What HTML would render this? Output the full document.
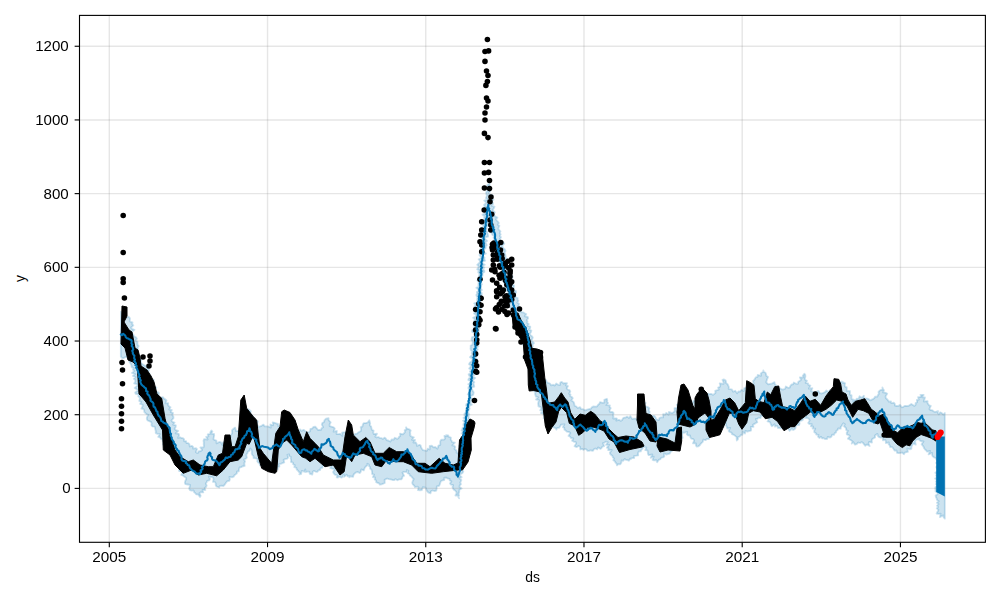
<!DOCTYPE html><html><head><meta charset="utf-8"><style>html,body{margin:0;padding:0;background:#fff;overflow:hidden}svg{display:block}</style></head><body><svg width="1000" height="600" viewBox="0 0 1000 600">
<rect x="0" y="0" width="1000" height="600" fill="#fff"/>
<defs><clipPath id="c"><rect x="79.5" y="15.4" width="905.9" height="526.9"/></clipPath></defs>
<polygon points="120.9,311.6 121.7,313.1 121.7,315.2 124.0,315.4 125.0,316.7 126.6,317.5 128.7,316.7 130.0,318.3 129.9,319.9 129.7,321.5 132.5,322.4 132.2,324.1 133.3,325.4 131.1,327.5 131.9,328.9 134.5,329.8 131.6,332.1 132.1,333.6 133.5,334.8 134.0,336.2 136.0,337.3 136.9,338.7 135.5,340.6 137.5,341.7 137.4,343.2 137.6,344.8 138.7,346.1 137.6,347.9 138.0,349.4 137.0,351.2 138.5,352.4 138.4,354.0 139.3,355.3 139.1,357.0 140.1,358.2 141.6,359.2 140.6,362.1 141.6,363.4 143.0,364.4 144.3,365.3 146.3,366.1 147.3,367.4 147.8,368.9 149.2,370.0 147.7,372.6 149.6,373.4 148.8,375.4 150.9,376.2 149.5,378.2 150.3,379.4 153.7,379.7 153.5,381.3 151.6,383.5 153.6,384.3 152.4,386.2 154.8,386.8 156.4,387.6 155.2,389.8 155.4,391.4 157.7,392.0 159.0,393.0 158.7,394.5 158.5,397.3 160.2,397.8 162.9,397.1 164.0,398.6 165.4,399.4 166.5,400.5 165.5,403.4 168.2,403.1 168.1,405.1 169.0,406.3 170.5,407.3 169.2,409.5 171.8,410.0 170.7,412.1 173.1,413.0 172.3,414.9 173.4,416.5 173.5,418.2 171.4,420.5 172.4,421.8 174.6,422.6 173.1,424.7 175.9,425.3 175.7,427.0 174.6,428.9 175.8,430.1 178.2,430.9 175.6,433.3 178.7,433.8 179.1,435.3 178.1,437.8 180.2,437.3 181.4,438.0 183.0,438.2 184.1,439.1 184.2,441.3 186.1,441.1 186.5,443.0 188.3,443.1 189.4,444.2 189.8,446.5 192.0,445.8 193.1,446.9 193.2,448.6 196.0,448.2 197.0,449.2 195.8,452.0 196.9,452.9 197.9,452.9 198.4,451.5 200.8,451.0 202.1,450.0 200.4,447.5 203.5,447.4 203.9,446.0 203.7,444.2 203.8,442.6 203.5,440.7 204.0,439.2 207.7,439.5 206.2,436.9 208.4,436.4 207.7,434.3 210.2,433.9 210.3,432.2 211.4,430.4 212.4,431.5 211.3,433.7 214.1,434.0 214.2,435.6 213.8,437.4 213.5,439.2 215.0,440.2 216.4,440.6 216.6,443.4 219.2,442.0 220.9,442.2 221.8,443.8 222.5,445.2 222.2,443.2 223.4,442.3 224.8,441.5 226.2,440.8 225.7,438.7 227.2,438.0 229.6,438.0 230.6,437.1 230.6,435.2 231.6,434.2 232.2,432.8 231.9,430.7 232.5,429.4 235.1,427.6 236.1,431.2 238.0,430.9 241.3,431.7 239.5,428.5 242.2,428.8 242.6,427.3 244.2,426.7 243.9,424.7 247.0,424.4 244.2,422.2 246.2,421.2 247.2,419.9 248.1,418.6 247.9,417.1 248.1,415.6 248.8,414.3 249.6,412.9 248.0,411.0 249.5,409.9 247.9,408.9 248.7,410.3 250.8,411.0 250.3,413.0 250.8,414.5 252.4,415.4 252.9,416.9 254.5,417.9 254.7,419.6 255.5,421.1 257.9,421.5 257.0,423.9 258.3,426.8 260.0,426.4 261.6,425.8 263.4,424.6 264.7,426.4 266.5,426.4 268.3,426.5 270.8,427.6 270.3,424.5 273.1,425.3 272.7,422.3 274.8,422.8 276.3,423.5 278.1,423.9 278.3,426.2 280.0,426.7 281.1,428.0 281.8,429.9 284.5,429.0 286.4,429.3 286.6,431.0 288.5,432.0 289.8,430.0 291.6,429.6 293.5,432.1 295.1,431.1 296.7,430.1 298.5,431.6 300.2,429.4 301.5,431.0 303.6,429.8 305.1,431.0 307.3,432.6 308.8,432.1 310.1,431.2 310.4,428.8 312.1,428.6 313.5,426.9 315.3,426.7 316.7,428.3 318.0,430.0 321.1,429.8 321.5,428.2 323.1,427.2 321.8,424.6 322.3,423.0 324.0,422.1 324.5,420.2 326.0,418.7 328.6,418.2 328.5,419.9 329.5,421.1 330.7,422.3 329.6,424.5 329.7,426.1 332.1,426.8 333.7,427.3 334.8,428.5 333.6,431.7 336.9,431.0 336.5,434.0 338.3,434.1 340.3,433.8 342.3,435.9 342.0,432.7 343.5,432.3 345.4,432.4 347.8,430.4 347.2,433.6 349.8,433.0 351.3,433.8 351.0,434.3 353.6,435.4 354.9,434.0 357.1,433.6 358.1,432.6 359.5,431.8 360.8,431.1 361.1,429.3 360.7,427.1 362.4,426.6 362.8,424.7 363.6,423.1 365.9,423.1 367.7,422.5 369.3,420.3 369.7,421.9 370.2,423.4 369.8,425.4 371.1,426.5 371.5,428.1 371.8,429.8 373.6,430.6 373.3,432.6 373.7,434.1 377.0,433.7 375.3,436.7 376.8,437.5 378.1,437.0 379.9,437.9 381.7,438.2 382.8,438.9 384.8,437.6 385.9,438.7 386.8,440.3 388.3,440.5 390.4,441.6 391.6,439.4 393.5,439.7 394.8,437.7 397.3,438.9 398.5,438.1 399.1,436.7 400.3,435.9 400.0,433.6 402.8,434.3 404.0,433.3 404.9,432.2 404.7,430.1 406.4,429.6 406.0,427.4 406.1,427.3 406.9,428.6 409.2,429.3 410.7,430.4 410.1,432.3 410.3,433.9 410.2,435.6 411.7,436.7 413.9,437.3 412.0,439.8 415.1,440.0 413.4,442.5 415.7,442.3 416.6,443.7 416.9,445.9 419.5,444.8 420.7,445.6 421.2,447.6 422.1,449.0 423.1,450.2 425.3,450.6 427.0,450.8 427.7,448.7 429.7,449.5 429.7,446.0 432.0,445.7 433.3,447.3 435.3,447.0 437.4,448.7 438.0,447.2 438.4,445.6 440.3,444.8 440.2,442.9 440.3,441.0 441.4,439.7 443.7,439.7 445.0,438.7 444.4,435.8 447.2,436.3 446.1,435.1 448.3,435.5 448.9,436.9 450.9,437.5 450.7,439.5 451.6,440.7 452.2,442.2 454.9,442.6 452.3,445.3 454.4,445.9 455.3,447.1 454.5,448.9 455.9,449.9 456.7,451.1 456.6,452.7 459.2,453.1 458.4,455.0 458.4,453.4 460.6,452.5 460.9,450.9 459.0,448.9 460.1,447.6 459.3,445.8 460.7,444.6 462.4,443.5 463.1,441.9 461.8,440.3 461.4,438.8 461.1,437.4 462.9,436.2 464.1,435.0 461.5,433.2 464.0,432.1 461.5,430.4 462.3,429.1 462.6,427.7 464.4,426.5 463.3,424.9 463.6,423.6 464.7,422.3 463.0,420.7 465.5,419.6 463.5,417.9 465.0,416.7 464.4,415.1 464.5,413.7 465.9,412.5 465.9,411.1 465.9,409.7 466.3,408.3 467.0,407.0 466.0,405.3 466.4,404.0 468.2,402.9 468.5,401.5 468.4,400.0 469.7,398.7 468.9,397.2 469.9,395.8 467.7,394.2 469.6,392.9 470.0,391.5 470.4,390.1 468.4,388.5 468.5,387.1 470.8,385.8 468.3,384.2 471.2,383.0 470.9,381.5 468.3,379.9 468.8,378.5 470.7,377.2 469.1,375.7 468.6,374.2 471.3,372.9 469.9,371.4 471.4,370.1 469.1,368.5 470.2,367.1 471.3,365.8 469.0,364.2 469.7,362.8 471.6,361.5 472.5,360.1 472.8,358.7 469.9,357.1 471.4,355.8 472.4,354.5 471.6,353.0 472.4,351.6 470.8,350.1 470.5,348.6 470.7,347.2 470.6,345.8 472.6,344.5 472.6,343.1 472.9,341.7 471.5,340.2 471.7,338.8 471.9,337.4 474.3,336.2 475.0,334.8 474.9,333.4 472.0,331.7 472.1,330.3 475.4,329.2 473.7,327.6 474.9,326.3 473.5,324.8 474.1,323.4 474.4,322.0 474.2,320.6 475.0,319.3 473.0,317.7 475.6,316.5 476.2,315.1 474.0,313.5 475.1,312.1 476.2,310.8 475.1,309.3 474.5,307.8 474.5,306.3 475.8,305.0 474.2,303.4 477.4,302.3 477.2,300.8 477.0,299.3 477.7,298.0 477.0,296.5 476.3,295.0 477.1,293.6 476.8,292.1 478.7,290.9 478.2,289.4 476.3,287.8 478.8,286.5 478.3,285.1 478.5,283.7 478.8,282.2 477.4,280.7 479.3,279.4 479.3,278.0 478.8,276.5 479.2,275.1 479.3,273.6 478.1,272.1 479.3,270.8 477.1,269.2 478.2,267.8 478.8,266.4 477.2,264.8 478.6,263.5 479.8,262.2 479.8,260.7 478.6,259.2 481.3,258.0 480.4,256.5 479.4,254.9 480.6,253.6 480.4,252.1 480.5,250.7 480.1,249.2 482.4,248.0 481.2,246.4 481.6,245.0 481.9,243.6 482.9,242.2 479.6,240.5 481.8,239.2 482.4,237.8 480.8,236.3 481.4,234.9 480.3,233.3 481.0,231.9 481.8,230.6 480.9,229.0 481.6,227.7 484.1,226.4 482.9,224.9 482.9,223.4 484.7,222.2 483.4,220.6 485.1,219.4 484.0,217.8 484.8,216.5 482.4,214.8 484.5,213.6 485.2,212.3 482.9,210.5 486.2,209.5 483.6,207.8 484.9,206.5 484.0,205.0 485.4,203.7 486.0,202.3 484.2,200.7 487.6,199.7 485.9,198.0 486.4,196.7 486.9,195.3 486.2,193.8 486.1,192.3 487.6,191.1 487.5,189.7 486.7,188.1 488.4,186.9 487.1,185.3 489.7,183.6 489.3,185.2 490.3,186.5 490.3,188.1 488.6,190.0 490.2,191.2 488.8,193.1 489.7,194.4 492.5,195.2 489.6,197.5 490.1,198.9 493.5,199.7 490.9,201.7 492.9,202.7 493.0,204.1 491.6,205.9 494.5,206.7 493.8,208.3 492.7,210.0 493.7,211.2 494.9,212.3 493.4,214.1 494.3,215.4 495.4,216.6 497.4,217.6 495.9,219.3 496.8,220.6 498.0,221.7 498.9,223.0 497.7,224.8 499.4,225.8 498.7,227.4 498.3,229.0 499.4,230.2 500.5,231.4 499.7,233.1 500.7,234.3 499.8,236.0 501.0,237.2 499.8,239.0 500.3,240.3 501.4,241.5 503.5,242.4 504.3,243.7 502.0,245.8 502.7,247.1 503.6,248.3 504.9,249.5 505.6,250.9 504.5,252.6 505.2,253.9 505.5,255.4 505.7,256.8 505.6,258.3 508.0,259.3 508.1,260.7 505.9,262.8 506.5,264.1 507.0,265.5 510.3,266.2 510.5,267.6 510.1,269.2 509.9,270.7 509.5,272.2 511.6,273.2 510.4,274.9 512.4,275.9 512.6,277.3 510.9,279.1 511.6,280.4 511.7,281.9 512.9,283.0 512.8,284.5 514.1,285.6 513.9,287.1 512.8,288.8 512.8,290.4 515.9,290.9 516.2,292.3 514.3,294.5 515.4,295.7 515.4,297.2 517.7,298.0 517.5,299.6 518.5,300.8 517.1,302.8 519.1,303.7 518.6,305.4 517.9,307.2 520.5,307.6 520.7,309.2 521.0,310.8 521.4,312.3 523.6,312.4 524.7,313.4 526.3,314.0 524.7,316.3 527.8,317.0 528.2,318.3 526.8,320.1 527.5,321.4 527.1,323.0 528.8,324.0 527.5,325.8 530.3,326.5 530.2,328.0 529.0,329.7 531.4,330.5 531.0,332.1 529.9,333.8 530.3,335.1 532.0,336.2 532.8,337.5 532.3,339.1 531.3,340.7 532.9,341.9 534.0,343.1 532.2,344.9 533.0,346.2 532.0,347.8 532.2,349.2 532.6,350.6 534.6,351.6 533.5,353.3 535.6,354.3 535.8,355.7 535.8,357.2 534.2,358.9 534.6,360.3 537.2,361.2 537.2,362.7 537.5,364.2 537.9,365.6 538.2,367.1 538.5,368.5 539.6,369.7 538.6,371.5 538.2,373.1 539.4,374.3 538.8,376.0 540.1,377.2 541.8,378.3 540.7,380.9 542.0,381.8 544.3,380.4 546.1,380.0 547.0,382.3 548.4,382.9 549.9,383.5 551.3,385.4 553.2,384.7 554.8,385.6 556.2,383.5 558.1,384.7 559.8,385.2 560.4,382.3 561.8,381.9 563.9,383.7 563.7,383.1 567.0,383.2 565.8,385.4 568.0,386.0 566.7,388.3 567.6,389.5 569.6,390.2 570.3,391.5 569.1,393.7 570.5,394.6 570.2,396.3 572.0,397.1 572.8,398.3 571.2,400.5 572.8,401.3 573.9,402.4 574.3,403.8 574.6,405.7 576.3,406.5 577.7,408.0 580.1,407.2 581.3,409.2 583.1,409.2 585.4,410.4 586.7,409.7 588.1,409.3 589.5,409.0 590.9,408.7 591.8,407.2 593.4,406.4 595.2,406.6 596.9,406.5 598.1,404.8 599.4,403.8 600.0,402.1 602.6,402.8 604.4,402.5 604.3,399.8 606.9,398.8 607.3,400.2 607.1,401.8 608.1,403.0 606.3,405.2 609.9,405.4 609.6,407.1 610.8,408.1 609.5,410.3 609.9,411.8 612.5,412.0 613.6,413.1 613.1,415.1 613.5,416.7 613.2,418.5 616.7,418.3 617.2,419.7 616.3,420.6 617.7,420.2 619.0,419.8 620.9,420.9 622.1,420.0 623.0,418.3 624.2,417.6 625.7,417.5 626.9,416.6 629.0,418.1 630.3,416.1 631.3,417.5 632.2,419.0 634.1,418.6 635.7,418.6 637.9,420.6 638.7,419.4 637.5,417.2 638.8,416.2 640.7,415.6 639.8,413.5 639.6,411.8 639.7,410.3 643.3,410.4 643.4,408.9 642.7,407.0 643.8,405.9 644.4,404.6 645.7,402.9 644.1,405.5 645.9,406.4 648.0,407.2 649.4,408.2 648.7,410.4 649.7,411.7 649.2,414.1 650.6,415.0 652.0,415.8 654.2,415.8 655.3,416.9 656.0,418.4 656.2,419.3 658.8,420.1 659.4,418.0 661.0,417.4 663.1,417.4 663.1,414.2 665.0,414.7 666.3,412.9 668.6,414.7 668.9,411.9 672.0,413.2 673.4,412.3 674.7,411.2 674.5,408.1 676.0,407.9 678.1,407.2 676.8,404.8 678.8,404.0 679.5,402.5 681.7,401.9 681.3,399.9 681.7,399.6 683.4,397.6 685.0,399.3 686.9,398.1 686.6,400.4 689.7,399.3 688.9,402.1 691.4,401.6 691.8,403.4 693.0,402.6 693.5,400.6 696.1,401.8 696.4,399.4 698.0,398.5 699.4,396.9 701.1,397.1 702.7,397.1 704.4,397.4 705.3,395.6 707.2,396.2 707.8,393.7 709.6,394.1 711.0,393.8 713.1,394.9 714.3,393.9 715.5,392.8 715.2,390.8 717.1,390.2 718.8,389.6 718.1,387.5 719.9,386.8 720.3,385.4 719.7,383.3 723.5,383.9 723.6,382.3 722.5,379.9 723.8,379.4 725.6,380.2 726.0,381.7 726.2,383.3 727.7,384.3 728.3,385.7 728.9,387.1 728.7,388.9 730.2,389.2 731.9,389.4 733.1,391.7 735.2,390.7 737.1,393.3 738.4,391.5 740.2,391.6 741.5,389.8 743.7,391.1 744.1,388.1 745.5,387.8 746.8,387.1 748.9,388.6 750.6,387.9 749.9,385.7 751.4,385.0 753.5,384.8 753.6,383.1 753.0,380.9 754.2,380.0 754.9,378.7 755.7,377.4 757.5,376.9 757.7,374.9 761.0,375.8 760.8,373.4 762.1,372.4 763.5,371.5 763.3,370.3 763.6,371.8 765.5,372.8 766.1,374.3 766.3,375.8 768.1,376.9 767.3,378.8 766.7,380.6 766.2,382.3 768.3,384.3 770.0,383.9 771.6,383.7 774.5,382.1 774.7,383.9 775.7,384.9 775.9,386.7 778.3,386.3 778.3,387.9 780.0,388.3 781.6,389.3 783.3,389.5 785.2,388.7 785.8,386.5 788.1,387.8 789.7,387.6 790.4,385.8 791.5,384.5 793.0,384.3 793.8,382.5 796.0,383.7 797.8,383.9 798.3,381.7 799.8,380.9 801.0,379.9 799.9,377.3 803.0,377.6 802.8,375.7 804.3,373.7 805.3,374.9 805.4,376.5 804.9,378.4 805.2,379.9 807.0,380.7 805.6,382.9 808.1,383.4 808.4,384.9 810.4,385.5 808.9,388.7 812.4,388.2 811.1,391.2 813.3,391.9 815.0,391.9 816.6,391.9 818.3,390.9 820.0,393.2 821.7,393.5 823.4,392.8 825.0,392.1 826.4,390.4 828.6,392.4 829.8,390.1 832.0,391.8 832.7,389.3 834.6,389.2 836.3,388.8 835.9,386.1 837.9,386.0 837.8,383.8 838.8,382.6 840.3,382.0 843.4,383.1 841.9,381.5 843.4,382.4 845.2,383.2 844.6,385.1 845.0,386.6 846.8,387.4 846.7,389.1 846.7,390.8 849.9,390.9 850.0,392.6 849.8,394.5 851.6,395.4 851.5,397.2 851.6,399.0 853.6,399.7 853.3,401.8 854.1,400.1 855.9,400.2 856.7,398.7 858.5,398.8 859.5,396.2 861.8,397.8 863.9,395.6 863.9,398.8 865.8,398.3 867.4,398.6 868.8,399.1 870.2,400.4 871.6,399.7 873.0,399.1 874.2,398.3 875.0,396.7 877.3,396.7 877.8,395.2 878.8,394.1 878.5,391.9 879.5,390.8 880.8,390.0 882.7,389.6 882.4,387.5 883.1,388.9 884.0,390.2 883.1,392.3 885.7,392.8 887.2,393.8 885.6,396.2 885.7,397.8 886.9,399.0 888.1,400.3 888.8,401.7 891.0,401.4 891.4,403.2 893.8,402.7 894.8,403.8 895.0,405.6 896.7,406.0 898.4,405.9 900.2,404.9 901.7,407.4 903.4,406.8 905.0,405.8 906.5,406.0 908.3,405.9 909.8,404.9 911.3,403.9 914.5,405.9 915.6,404.8 915.6,403.0 917.1,402.2 916.8,400.0 918.8,399.7 918.1,397.2 920.5,397.1 921.0,395.5 920.4,394.9 923.7,394.8 922.2,397.3 925.0,397.4 924.4,399.5 923.8,401.5 927.6,401.1 927.4,402.7 928.2,404.1 929.1,405.3 930.8,405.9 929.4,409.0 930.5,410.0 932.6,410.3 933.3,411.2 935.0,412.0 938.2,411.1 937.2,411.3 938.7,414.4 940.2,412.3 941.8,413.0 943.3,414.6 944.8,413.0 944.8,518.7 943.7,517.5 943.3,515.3 939.9,517.1 940.6,513.7 938.3,513.9 936.6,513.5 937.8,511.3 938.4,509.8 936.8,508.4 938.1,507.0 937.0,505.6 938.7,504.1 936.9,502.7 938.8,501.3 936.9,499.9 936.7,498.5 935.9,497.0 935.6,495.6 937.6,494.2 937.5,492.8 935.5,491.3 935.6,489.9 935.2,488.5 935.4,487.1 937.3,485.6 935.8,484.2 936.5,482.8 935.8,481.4 936.8,479.9 935.1,478.5 937.3,477.1 936.0,475.7 936.8,474.2 935.3,472.8 937.0,471.4 938.5,470.0 936.9,468.5 936.2,467.1 937.3,465.7 938.4,464.3 936.1,462.9 937.4,461.4 936.7,460.0 935.4,457.9 933.9,457.3 932.7,456.4 932.1,455.0 932.1,452.9 928.6,454.4 930.0,450.9 927.1,451.7 926.2,450.5 924.9,449.3 924.0,448.1 923.5,446.6 922.6,445.5 921.6,444.3 923.5,441.5 921.0,441.2 919.5,440.3 919.4,438.6 919.0,439.4 916.9,439.4 915.6,440.2 915.1,441.8 915.8,444.6 912.6,443.4 912.3,445.2 911.5,446.5 911.4,448.8 909.9,449.3 907.3,448.5 907.9,451.8 906.3,452.2 904.7,452.6 904.0,454.2 902.0,452.5 900.2,453.1 898.6,453.2 897.1,452.9 896.4,450.3 894.7,450.7 893.6,449.1 893.1,448.3 892.2,447.1 890.1,447.0 889.8,445.4 888.7,444.4 888.8,442.5 885.8,443.1 885.8,441.2 885.2,439.8 882.9,440.3 882.9,437.3 880.7,437.7 879.2,437.2 877.9,436.1 877.4,433.8 875.0,435.5 875.1,437.5 873.7,438.2 872.4,438.9 871.7,440.3 872.0,442.5 869.1,441.9 868.6,443.3 869.6,446.1 867.0,444.5 865.3,445.8 864.1,444.4 863.0,442.9 861.7,442.1 860.1,443.0 858.3,442.5 856.7,444.1 855.0,444.7 853.4,442.3 851.7,443.6 852.5,441.4 851.2,440.4 849.6,439.5 847.9,438.6 850.0,436.2 848.8,435.1 846.8,434.4 846.7,432.8 847.9,430.8 846.1,430.0 846.1,428.4 845.2,427.2 843.9,426.2 844.9,424.2 843.4,423.3 842.4,424.5 841.8,425.8 840.8,426.9 840.7,428.7 838.2,428.4 837.7,429.9 836.4,430.7 836.1,432.4 834.8,433.1 834.0,434.8 832.1,434.7 831.4,436.8 830.1,437.6 827.7,436.9 827.1,439.0 825.0,439.1 823.7,438.1 822.2,438.4 821.0,436.8 819.3,438.0 818.0,436.6 818.5,434.8 816.2,434.5 815.8,433.1 814.3,432.3 814.2,430.8 815.2,428.6 812.6,428.5 813.2,426.5 810.8,426.3 811.7,424.1 809.1,424.0 808.2,422.9 809.7,420.4 809.0,419.1 807.9,418.2 805.3,418.1 806.4,415.8 805.7,414.6 805.1,417.2 803.3,417.9 803.0,419.8 801.5,420.7 799.1,421.0 799.6,423.4 799.2,425.0 796.9,425.1 795.7,426.0 795.6,428.0 794.7,429.2 793.2,430.0 791.9,428.8 789.6,430.8 788.3,429.0 787.0,426.9 785.1,429.3 784.1,426.5 782.4,427.9 780.8,428.3 779.4,428.0 778.0,428.0 776.9,425.7 775.0,426.6 774.6,424.2 771.9,426.2 771.0,424.7 770.3,422.7 769.6,421.9 767.5,421.4 769.0,418.9 767.7,417.9 767.6,416.4 765.1,416.1 764.1,415.0 764.5,413.2 763.8,415.0 763.0,416.3 760.7,415.9 760.7,418.1 758.4,417.6 757.7,418.9 755.8,418.9 757.3,422.2 755.9,423.1 754.4,423.9 753.0,424.7 753.5,426.9 750.7,426.9 751.2,429.0 751.0,430.7 748.9,431.1 747.5,431.6 745.5,430.9 745.0,433.5 742.7,432.0 742.5,434.8 740.7,435.2 739.8,436.5 738.2,437.1 737.9,439.3 736.8,440.5 736.5,436.9 735.2,435.9 733.9,434.9 732.0,434.2 731.6,432.7 729.7,432.0 728.6,430.9 730.2,427.9 727.2,428.5 726.8,426.9 726.1,425.5 725.9,423.8 725.6,422.1 722.8,424.2 723.6,426.8 720.3,426.2 720.4,428.3 718.8,429.0 717.8,430.2 716.4,431.1 717.2,433.7 715.3,434.1 714.5,436.0 712.3,435.4 710.4,435.5 709.5,437.1 708.8,439.1 706.8,438.9 705.7,440.2 703.4,439.5 702.8,441.8 701.6,442.9 700.5,444.1 699.8,445.3 698.5,446.3 696.6,446.6 695.9,445.3 695.9,443.4 692.9,443.3 694.2,440.6 693.4,439.2 691.1,438.6 690.4,437.3 690.0,435.5 688.0,435.4 686.8,434.3 687.1,431.8 683.9,432.8 682.8,432.3 682.3,433.9 682.1,435.6 682.6,437.8 680.7,438.5 678.6,439.1 679.5,441.5 678.0,442.3 676.4,443.0 677.8,445.8 674.5,445.4 676.2,448.3 673.2,448.1 672.2,449.3 672.0,451.0 670.6,451.8 669.8,453.6 668.1,454.0 666.6,454.6 664.1,453.5 664.3,456.5 663.0,457.4 661.3,457.7 660.5,459.2 659.0,459.7 658.0,460.9 657.2,462.3 656.3,460.1 654.0,460.4 652.6,459.8 653.7,456.7 650.6,457.8 652.3,454.5 648.6,455.2 647.9,453.8 647.8,452.1 647.5,450.4 645.2,450.2 646.3,447.6 644.5,447.1 643.1,447.0 642.6,448.7 641.4,449.8 640.8,451.3 638.7,451.5 638.1,453.1 638.2,455.4 636.3,455.7 634.2,455.8 634.2,458.1 632.0,458.1 630.8,459.1 630.3,458.5 628.9,460.8 627.5,460.1 626.1,459.9 624.7,459.0 623.3,460.8 621.6,460.5 621.3,462.8 620.3,464.3 618.2,464.2 617.0,465.4 616.5,463.6 615.4,462.5 614.8,461.2 613.3,460.3 614.0,458.5 612.9,457.4 612.5,456.0 611.3,455.0 610.2,454.0 609.8,452.7 611.8,450.0 608.2,450.2 608.5,448.4 606.9,447.6 609.2,444.8 606.0,444.9 607.8,442.3 606.1,441.6 604.6,442.6 603.0,443.1 604.1,446.1 602.5,446.6 601.7,447.8 600.6,448.9 598.0,447.4 597.2,449.3 595.3,448.5 593.9,449.3 593.0,450.9 591.2,450.5 590.5,450.3 589.0,450.9 587.5,450.8 586.3,449.4 585.0,449.0 583.3,449.9 582.2,448.9 580.3,449.5 580.0,446.7 578.7,446.0 576.5,447.1 574.5,446.2 576.1,443.6 575.8,442.1 573.6,441.6 572.1,440.7 573.3,438.3 570.8,438.0 570.2,436.6 568.5,435.9 570.3,433.0 569.1,432.0 566.8,431.7 565.7,430.6 564.4,429.7 564.3,427.9 562.9,427.1 564.4,424.3 561.0,424.7 560.2,426.3 559.2,427.8 557.2,427.9 556.4,429.6 555.8,428.5 554.3,427.6 552.8,426.9 552.4,424.6 548.9,426.4 548.4,424.4 548.1,421.9 546.9,420.8 546.7,420.2 546.0,418.9 543.6,418.3 544.4,416.4 543.6,415.2 543.3,413.7 540.9,413.2 543.1,410.7 540.2,410.3 541.2,408.4 540.7,407.1 538.5,406.3 538.3,404.8 538.1,403.4 538.5,401.8 539.0,400.1 536.0,399.5 538.3,397.3 535.8,396.6 535.5,395.2 535.0,393.7 535.7,392.0 533.5,391.1 533.3,389.6 533.6,388.0 532.3,386.8 534.4,384.8 534.9,383.1 534.2,381.8 534.2,380.3 532.2,379.3 530.8,378.1 532.2,376.2 529.7,375.3 530.0,373.7 531.3,372.0 531.6,370.5 528.2,369.6 528.2,368.2 527.8,366.8 529.5,365.0 527.2,363.9 528.9,362.2 527.0,361.0 527.2,359.5 527.5,358.0 528.8,356.3 526.8,355.2 528.4,353.4 526.0,352.4 527.4,350.7 524.9,349.7 526.8,347.8 526.9,346.1 526.2,344.9 522.9,344.6 524.6,342.5 525.1,340.7 521.6,340.5 521.5,339.0 522.7,337.1 522.6,335.6 522.4,334.1 520.4,333.4 518.9,332.4 518.0,331.3 518.9,329.2 518.9,327.5 518.0,326.3 517.8,324.8 515.2,324.4 516.9,321.9 513.4,322.0 515.4,319.3 514.8,318.3 512.0,317.5 513.2,315.7 513.6,314.0 513.5,312.5 510.7,311.7 513.1,309.6 511.4,308.5 510.2,307.3 509.1,306.0 508.5,304.7 510.5,302.7 510.5,301.1 510.5,299.6 509.5,298.4 507.1,297.5 508.9,295.6 507.5,294.5 508.1,292.9 508.2,291.4 505.2,290.6 506.3,288.9 504.3,287.9 506.9,285.8 505.1,284.8 504.3,283.5 504.3,282.0 502.8,280.9 505.4,278.8 504.9,277.5 502.0,276.7 503.1,275.0 501.8,273.8 503.2,271.9 503.0,270.4 501.2,269.3 501.7,267.7 501.9,266.1 500.2,265.0 501.2,263.2 499.1,262.2 498.7,260.8 497.4,259.6 496.9,258.2 499.2,256.0 498.1,254.8 497.6,253.4 496.9,252.0 496.0,250.7 494.6,249.6 496.5,247.6 495.1,246.4 496.3,244.6 495.2,243.4 495.5,241.7 495.4,240.3 494.0,239.1 493.5,237.7 494.2,236.0 492.4,234.9 491.7,233.6 490.8,232.3 489.9,231.1 490.4,229.4 489.8,228.0 490.4,226.3 489.3,225.0 489.4,223.4 487.5,222.4 490.2,223.7 488.4,224.9 486.8,226.1 486.5,227.5 486.8,229.0 486.4,230.4 487.2,232.1 487.6,233.6 488.1,235.2 488.1,236.7 484.7,237.5 485.3,239.1 487.2,240.9 485.3,242.1 486.2,243.7 486.8,245.3 485.5,246.5 485.9,247.9 484.4,249.2 483.3,250.5 482.8,251.9 485.9,253.6 482.8,254.7 482.9,256.2 484.6,257.7 484.3,259.1 485.2,260.6 482.8,261.8 481.8,263.1 484.8,264.8 482.5,266.0 484.3,267.6 482.2,268.8 484.2,270.4 484.4,271.9 482.6,273.1 482.5,274.5 482.5,276.0 481.5,277.3 481.7,278.7 481.8,280.2 480.3,281.4 481.1,282.9 481.9,284.4 479.7,285.6 480.1,287.1 480.9,288.6 481.9,290.1 480.1,291.4 481.7,292.9 481.9,294.3 481.5,295.7 481.2,297.1 480.6,298.5 479.5,299.8 480.8,301.3 479.7,302.7 479.0,304.0 481.6,305.6 481.1,307.0 480.8,308.4 478.4,309.7 479.6,311.2 481.0,312.7 477.9,313.9 479.5,315.4 477.8,316.7 480.7,318.3 477.2,319.5 477.4,320.9 477.1,322.3 477.8,323.8 477.9,325.2 478.9,326.7 479.6,328.2 478.8,329.5 479.0,331.0 478.0,332.3 478.7,333.8 478.8,335.2 477.3,336.5 476.5,337.9 479.2,339.5 477.7,340.8 477.3,342.2 478.2,343.7 475.3,344.9 478.3,346.6 476.3,347.8 477.8,349.4 476.6,350.7 476.5,352.2 477.6,353.7 477.2,355.1 476.1,356.5 475.8,357.9 477.1,359.4 473.9,360.6 474.9,362.1 474.6,363.5 475.0,365.0 473.1,366.3 474.5,367.8 475.1,369.3 475.6,370.8 475.5,372.3 473.0,373.5 474.4,375.0 472.5,376.3 475.2,378.0 473.7,379.3 472.6,380.6 474.3,382.2 473.3,383.6 474.0,385.1 474.3,386.6 471.6,387.7 472.0,389.1 472.5,390.6 473.7,392.2 473.5,393.6 473.2,394.9 470.7,396.1 470.3,397.5 472.9,399.2 471.6,400.4 471.0,401.8 470.5,403.2 471.9,404.7 469.2,405.8 469.2,407.3 469.6,408.7 468.7,410.0 468.4,411.4 468.2,412.8 469.3,414.4 468.6,415.7 468.7,417.1 468.9,418.6 470.2,420.1 467.5,421.2 469.8,423.1 469.8,424.6 467.5,425.6 468.6,427.3 468.7,428.8 465.3,429.7 466.0,431.3 465.9,432.8 466.9,434.4 466.3,435.8 466.1,437.3 465.3,438.6 465.8,440.2 464.9,441.4 463.8,442.8 465.4,444.4 465.1,445.8 463.7,447.1 463.9,448.6 463.5,450.0 465.3,451.6 463.4,452.8 465.1,454.5 463.2,455.7 463.4,457.2 463.4,458.6 463.3,460.1 461.6,461.3 461.5,462.8 463.5,464.4 461.4,465.6 461.8,467.1 460.7,468.4 462.3,470.1 463.3,471.6 462.6,472.9 460.4,474.2 459.8,475.5 461.7,477.1 459.4,478.4 461.4,480.0 460.8,481.3 460.2,482.7 461.0,484.2 459.7,485.5 459.5,486.9 461.6,488.5 459.4,489.8 459.3,491.2 459.1,492.6 458.5,494.0 459.1,495.4 458.2,496.8 459.1,498.3 458.5,497.1 458.3,495.5 455.4,495.5 456.7,493.0 456.1,491.7 455.2,490.6 453.8,489.7 453.0,488.5 452.5,487.1 453.1,485.2 450.9,484.6 450.0,483.5 451.4,481.2 449.7,480.4 449.6,478.9 447.4,478.4 446.0,477.4 446.4,477.8 444.3,477.7 444.3,480.0 442.6,480.4 441.1,481.0 440.3,482.7 439.8,484.4 439.1,485.9 436.8,486.3 436.7,488.3 436.3,490.6 434.7,491.1 432.5,490.5 431.0,491.2 430.5,493.3 428.0,492.3 427.0,491.0 426.3,489.3 425.6,487.6 422.8,487.2 421.9,490.0 420.1,490.3 417.9,490.1 418.5,487.5 417.4,486.6 414.9,487.1 414.3,485.7 412.8,484.4 412.2,483.0 412.7,481.1 413.7,479.0 412.5,477.9 411.4,476.6 409.9,475.6 409.4,474.0 407.6,473.2 408.4,470.8 406.8,470.0 406.9,472.1 404.0,471.8 402.5,472.5 404.1,475.8 402.6,476.5 402.2,478.2 401.3,479.4 398.8,479.4 397.6,480.3 395.3,479.1 394.2,480.2 392.5,480.1 392.0,479.7 390.4,479.4 388.7,479.1 387.1,478.5 384.6,479.9 384.8,483.0 383.2,483.7 381.6,484.3 379.8,484.7 379.4,483.6 377.8,482.9 376.1,482.2 376.1,480.4 374.7,479.5 375.0,477.5 372.9,477.1 374.0,474.6 372.0,474.0 372.1,472.4 371.9,471.0 371.4,469.6 370.1,468.7 370.1,467.2 369.0,466.1 368.8,464.6 367.3,463.7 367.7,465.0 366.4,466.0 365.2,467.2 364.4,468.7 363.8,470.4 361.3,469.4 360.8,471.7 359.9,473.1 357.7,472.0 356.2,472.3 354.7,473.4 353.6,474.7 353.1,476.9 350.6,476.3 349.3,477.4 349.4,476.1 347.6,476.4 346.7,474.8 344.0,476.9 343.8,474.1 342.7,476.8 341.5,477.7 338.8,476.4 337.9,477.7 336.7,477.4 337.1,475.3 334.8,474.7 333.8,473.5 333.1,472.0 334.7,469.2 332.4,468.7 330.2,468.1 331.6,465.4 330.9,463.9 330.2,462.5 327.4,462.3 327.0,462.4 326.0,463.4 325.0,464.4 324.1,465.5 322.7,466.1 322.3,467.9 320.6,468.1 320.1,470.0 318.5,470.3 317.5,471.8 315.9,471.8 313.7,470.8 312.7,472.1 312.3,474.6 309.8,473.8 309.2,471.6 307.5,471.6 305.6,472.1 305.3,469.3 304.8,471.8 301.8,470.8 301.4,472.4 301.1,474.1 299.3,474.3 300.3,472.9 298.9,471.9 297.9,470.6 296.7,469.5 296.4,467.8 294.3,467.1 294.8,465.1 293.1,464.2 292.9,462.6 290.9,461.9 291.2,460.0 290.6,458.6 290.8,456.8 289.0,456.0 289.1,454.3 287.4,454.8 288.2,457.4 287.3,458.7 285.2,459.1 283.6,459.9 284.3,462.5 282.5,463.1 281.0,463.8 279.1,464.1 279.4,466.6 277.8,467.2 277.8,469.4 275.8,466.7 274.1,466.8 273.2,465.4 271.7,464.9 270.2,464.5 267.9,463.7 267.0,467.4 264.8,465.7 263.1,465.8 262.1,465.3 259.9,465.4 259.3,463.0 258.1,462.6 257.2,461.3 257.8,459.2 256.0,458.4 253.5,458.1 253.6,456.3 252.5,455.2 251.7,453.8 251.8,451.6 251.5,449.8 250.3,448.5 249.4,450.9 247.7,451.8 247.5,453.2 246.4,454.3 246.4,455.9 246.9,457.6 245.9,458.7 244.0,459.5 245.1,461.5 244.4,462.7 244.4,464.3 244.7,465.9 242.1,466.5 241.2,467.2 239.5,467.5 239.0,469.2 238.8,471.3 237.1,471.5 236.8,473.5 235.6,474.4 234.5,475.2 233.8,476.6 232.3,477.3 229.4,476.9 229.9,479.3 229.3,480.9 227.3,481.2 226.3,482.3 225.5,483.6 224.5,485.0 223.3,486.0 221.5,485.7 219.9,485.8 219.1,487.5 216.5,486.5 215.7,485.2 215.7,483.4 215.0,482.1 212.9,481.8 213.6,479.4 213.2,477.8 211.8,477.0 209.6,476.8 208.8,476.7 210.0,479.0 209.3,480.3 207.2,480.9 206.7,482.3 205.8,483.5 206.7,485.6 206.0,487.0 204.7,488.0 205.4,490.0 202.5,489.9 203.3,492.4 200.8,492.2 199.5,493.0 200.7,495.8 200.0,497.0 198.1,494.4 196.1,494.4 195.3,493.1 194.1,492.2 193.6,490.5 191.5,490.6 189.9,490.2 189.1,488.6 189.8,486.6 190.0,484.8 187.8,484.5 185.5,484.2 184.8,482.9 185.2,481.1 186.3,478.8 185.7,477.5 184.2,476.7 183.2,475.7 181.2,475.0 182.3,473.0 182.6,471.3 179.1,471.2 179.0,469.7 180.3,467.5 179.1,466.5 176.7,465.9 178.7,463.5 175.5,463.3 176.5,461.3 174.3,460.6 175.3,458.6 175.4,457.0 174.3,455.6 172.7,455.3 172.6,453.3 170.1,453.9 169.7,452.2 168.8,451.1 169.0,449.6 166.2,449.4 167.1,447.2 165.2,446.6 165.9,444.5 163.0,444.4 163.5,442.4 162.7,441.2 162.6,439.5 160.8,438.8 160.2,437.4 158.2,436.9 159.8,434.1 157.5,433.8 155.7,433.1 155.8,431.3 155.4,429.7 155.1,428.2 154.7,426.7 152.2,426.4 151.4,425.1 151.7,423.3 151.0,421.9 149.3,421.2 147.6,420.5 146.8,419.1 146.9,417.4 148.3,414.9 146.5,414.2 145.4,413.1 144.3,412.0 144.2,410.4 143.5,409.1 141.4,408.6 142.7,406.1 142.7,404.7 140.0,404.0 141.3,401.9 139.2,401.0 139.7,399.2 139.8,397.5 138.3,396.4 138.8,394.5 135.6,393.8 135.2,392.4 138.1,390.3 136.4,389.1 134.6,387.9 137.4,385.8 137.3,384.3 134.1,383.4 135.3,381.6 135.3,380.1 133.8,378.8 135.7,377.0 132.8,376.0 135.2,374.0 131.9,373.0 134.3,371.1 133.0,369.7 133.8,368.1 131.5,367.1 131.5,365.6 130.9,364.3 130.2,363.0 129.3,361.7 130.8,359.8 128.5,359.0 127.2,357.2 125.4,357.1 123.4,358.3 122.0,357.8 120.8,356.6" fill="#0072B2" fill-opacity="0.2" stroke="#0072B2" stroke-opacity="0.2" stroke-width="1.8" stroke-linejoin="round"/>
<g stroke="#808080" stroke-opacity="0.2" stroke-width="1.39"><line x1="79.5" y1="488.40" x2="985.4" y2="488.40"/><line x1="79.5" y1="414.71" x2="985.4" y2="414.71"/><line x1="79.5" y1="341.02" x2="985.4" y2="341.02"/><line x1="79.5" y1="267.32" x2="985.4" y2="267.32"/><line x1="79.5" y1="193.63" x2="985.4" y2="193.63"/><line x1="79.5" y1="119.94" x2="985.4" y2="119.94"/><line x1="79.5" y1="46.25" x2="985.4" y2="46.25"/><line x1="109.30" y1="15.4" x2="109.30" y2="542.3"/><line x1="267.53" y1="15.4" x2="267.53" y2="542.3"/><line x1="425.75" y1="15.4" x2="425.75" y2="542.3"/><line x1="583.98" y1="15.4" x2="583.98" y2="542.3"/><line x1="742.21" y1="15.4" x2="742.21" y2="542.3"/><line x1="900.43" y1="15.4" x2="900.43" y2="542.3"/></g>
<g clip-path="url(#c)">
<polygon points="122.0,306.0 127.0,307.0 127.0,316.0 124.0,322.0 129.0,330.0 132.0,332.0 135.0,348.0 138.0,350.0 140.0,358.0 141.0,366.0 144.0,368.0 147.0,370.0 151.0,376.0 154.0,382.0 157.0,394.0 161.7,398.3 165.0,418.3 166.7,425.0 170.0,433.3 175.0,450.0 180.0,456.7 188.3,461.7 193.3,460.0 200.0,465.0 208.3,466.7 213.3,466.7 218.3,455.0 222.5,453.3 225.0,435.0 230.0,435.0 231.7,446.7 235.0,446.7 238.3,436.7 240.8,400.0 244.2,395.0 246.7,408.3 253.3,416.7 256.7,420.0 258.3,435.0 260.0,448.3 263.3,453.3 271.7,463.3 275.8,433.3 280.0,426.7 281.7,411.7 284.2,410.0 290.0,412.5 295.0,420.0 298.3,430.0 303.3,441.7 306.7,431.7 310.0,438.3 315.0,443.3 318.3,446.7 323.3,455.0 333.3,460.0 341.7,460.0 345.0,436.7 348.3,420.0 351.7,425.0 353.3,435.0 360.0,441.7 365.8,437.5 370.0,441.7 375.0,453.3 383.3,453.3 389.2,447.5 396.7,451.7 403.3,451.7 410.0,453.3 416.7,463.3 425.0,463.3 430.0,466.7 439.2,458.3 445.0,463.3 453.3,465.0 458.0,463.0 459.5,440.0 463.0,435.0 466.0,425.0 470.0,419.0 474.0,421.0 475.0,423.0 474.0,428.0 471.0,438.0 471.3,450.0 468.0,462.0 462.5,470.0 458.3,470.0 443.3,471.7 431.7,473.3 418.3,471.7 411.7,465.0 403.3,461.7 395.0,461.7 386.7,460.0 381.7,466.7 375.0,465.0 371.7,456.7 363.3,453.3 355.0,455.0 351.7,461.7 346.7,455.0 344.2,471.7 340.0,475.0 333.3,465.0 325.0,466.7 315.0,458.3 310.0,461.7 305.8,458.3 301.7,456.7 291.7,445.0 286.7,440.0 281.7,443.3 278.3,450.0 276.7,471.7 275.0,473.3 268.3,471.7 261.7,468.3 258.3,456.7 253.3,435.0 249.2,444.2 246.7,443.3 241.7,456.7 238.3,460.0 230.0,461.7 223.3,470.0 216.7,475.8 206.7,473.3 198.3,475.0 191.7,470.0 183.3,473.3 175.0,465.0 170.0,455.0 163.3,450.0 162.5,430.0 153.3,415.0 146.0,402.0 141.0,396.0 139.0,394.0 138.0,378.0 137.0,366.0 133.0,362.0 128.0,360.0 125.0,348.0 121.0,344.0" fill="#000" stroke="#000" stroke-width="1" stroke-linejoin="round"/>
<polygon points="512.0,313.0 518.0,313.0 521.0,320.0 526.0,328.0 530.0,340.0 532.0,348.3 537.0,349.0 540.0,350.0 542.0,352.0 544.8,377.7 546.7,391.3 548.0,403.3 554.7,402.0 558.7,396.7 561.3,392.7 564.7,398.0 568.0,402.0 570.7,412.7 574.7,419.3 580.0,414.0 585.3,415.3 590.7,411.3 594.7,414.0 600.0,420.7 604.0,423.3 609.0,429.0 614.0,434.0 618.0,437.5 626.0,436.0 634.0,437.0 642.0,442.0 644.0,446.0 644.0,446.0 642.0,447.0 630.0,449.5 619.5,452.5 614.0,442.0 609.0,439.0 604.0,431.0 598.7,428.7 593.3,427.3 588.0,427.3 582.7,432.7 578.7,435.3 574.7,426.0 569.3,423.3 566.7,412.7 561.3,407.3 558.7,411.3 556.0,422.0 552.0,427.3 548.0,434.0 545.3,426.0 544.0,415.3 541.2,392.3 533.8,390.5 529.2,391.0 528.3,385.0 528.0,369.0 524.5,359.7 523.3,343.0 518.0,335.0 513.0,325.0 512.0,313.0" fill="#000" stroke="#000" stroke-width="1" stroke-linejoin="round"/>
<polygon points="637.5,394.0 644.0,394.0 645.0,405.0 646.0,413.5 651.0,415.0 656.0,422.0 657.0,436.0 656.0,442.0 650.0,441.0 645.0,433.0 639.0,428.0 637.0,420.0 637.5,405.0" fill="#000" stroke="#000" stroke-width="1" stroke-linejoin="round"/>
<polygon points="658.0,437.0 667.0,439.0 675.0,443.0 677.0,428.0 681.5,427.0 681.7,441.0 680.0,451.0 668.0,450.0 660.0,452.0 657.0,446.0" fill="#000" stroke="#000" stroke-width="1" stroke-linejoin="round"/>
<polygon points="678.5,398.0 681.0,385.0 684.0,384.0 688.0,390.0 693.0,406.0 697.5,412.0 698.0,418.0 696.0,424.0 690.0,427.0 684.0,425.5 678.0,424.0 677.0,412.0" fill="#000" stroke="#000" stroke-width="1" stroke-linejoin="round"/>
<polygon points="695.0,398.0 697.0,394.0 702.0,388.0 707.0,393.0 709.0,400.0 711.0,411.0 711.0,421.0 705.0,413.0 698.0,418.0 695.0,410.0" fill="#000" stroke="#000" stroke-width="1" stroke-linejoin="round"/>
<polygon points="706.0,421.0 714.0,419.5 720.0,410.0 725.3,400.0 730.0,398.0 734.7,402.7 738.7,410.7 745.3,402.7 746.7,380.7 750.7,382.7 754.0,385.3 755.3,398.7 758.7,401.3 764.0,402.7 767.3,392.0 770.7,394.7 774.7,386.7 778.7,386.0 780.7,397.3 782.7,406.7 789.3,408.0 794.7,410.7 800.0,404.0 805.3,396.0 810.0,401.3 815.3,399.3 820.7,405.3 826.0,396.0 830.0,390.7 833.3,386.7 834.0,378.7 838.7,379.3 840.7,384.0 842.0,392.0 846.0,394.0 848.0,400.0 851.3,405.3 855.3,401.3 860.7,400.0 864.7,398.7 867.3,402.7 871.3,409.3 875.3,412.0 879.3,416.0 883.7,414.0 886.5,419.6 890.3,424.3 894.0,430.8 897.7,432.7 903.3,427.1 908.0,427.1 912.7,425.2 917.3,422.4 921.1,423.3 923.9,422.4 927.6,425.2 932.3,429.9 936.0,430.8 936.0,441.1 931.4,438.3 926.7,436.4 921.1,434.5 916.4,437.3 912.7,441.1 909.9,445.8 906.1,444.8 902.4,447.6 896.8,443.9 891.2,437.3 885.6,437.3 882.8,430.8 880.0,422.4 878.0,424.0 874.0,422.7 868.7,413.3 863.3,410.7 858.0,409.3 852.7,417.3 847.3,406.7 842.0,401.3 836.7,400.0 831.3,405.3 826.0,409.3 820.7,412.0 814.0,413.3 812.0,410.7 805.3,416.0 800.0,420.0 794.7,426.7 790.7,426.7 784.0,430.7 777.3,421.3 772.0,417.3 765.3,418.7 760.0,412.0 753.3,410.7 748.7,413.3 746.7,422.7 742.0,429.3 738.7,424.0 734.7,413.3 729.3,413.3 725.3,422.7 720.0,434.7 715.5,436.0 709.5,437.5 706.0,430.0" fill="#000" stroke="#000" stroke-width="1" stroke-linejoin="round"/>
<circle cx="123.2" cy="215.5" r="2.78" fill="#000"/>
<circle cx="123.2" cy="252.5" r="2.78" fill="#000"/>
<circle cx="123.2" cy="278.8" r="2.78" fill="#000"/>
<circle cx="123.2" cy="282.5" r="2.78" fill="#000"/>
<circle cx="124.4" cy="298.0" r="2.78" fill="#000"/>
<circle cx="143.0" cy="357.0" r="2.78" fill="#000"/>
<circle cx="150.0" cy="356.0" r="2.78" fill="#000"/>
<circle cx="150.0" cy="361.0" r="2.78" fill="#000"/>
<circle cx="149.0" cy="366.0" r="2.78" fill="#000"/>
<circle cx="122.0" cy="362.5" r="2.78" fill="#000"/>
<circle cx="122.5" cy="370.0" r="2.78" fill="#000"/>
<circle cx="122.5" cy="383.8" r="2.78" fill="#000"/>
<circle cx="121.5" cy="398.8" r="2.78" fill="#000"/>
<circle cx="121.5" cy="406.2" r="2.78" fill="#000"/>
<circle cx="121.5" cy="413.8" r="2.78" fill="#000"/>
<circle cx="121.5" cy="421.2" r="2.78" fill="#000"/>
<circle cx="121.5" cy="428.8" r="2.78" fill="#000"/>
<circle cx="487.4" cy="39.5" r="2.78" fill="#000"/>
<circle cx="485.0" cy="51.5" r="2.78" fill="#000"/>
<circle cx="488.6" cy="50.9" r="2.78" fill="#000"/>
<circle cx="485.0" cy="61.4" r="2.78" fill="#000"/>
<circle cx="486.5" cy="71.0" r="2.78" fill="#000"/>
<circle cx="488.0" cy="75.5" r="2.78" fill="#000"/>
<circle cx="487.4" cy="81.5" r="2.78" fill="#000"/>
<circle cx="485.9" cy="85.4" r="2.78" fill="#000"/>
<circle cx="486.5" cy="98.0" r="2.78" fill="#000"/>
<circle cx="488.0" cy="101.0" r="2.78" fill="#000"/>
<circle cx="486.5" cy="107.0" r="2.78" fill="#000"/>
<circle cx="485.0" cy="113.0" r="2.78" fill="#000"/>
<circle cx="485.0" cy="120.0" r="2.78" fill="#000"/>
<circle cx="484.4" cy="133.4" r="2.78" fill="#000"/>
<circle cx="488.0" cy="137.6" r="2.78" fill="#000"/>
<circle cx="484.4" cy="162.5" r="2.78" fill="#000"/>
<circle cx="489.5" cy="162.5" r="2.78" fill="#000"/>
<circle cx="484.4" cy="173.0" r="2.78" fill="#000"/>
<circle cx="488.6" cy="172.4" r="2.78" fill="#000"/>
<circle cx="489.5" cy="180.5" r="2.78" fill="#000"/>
<circle cx="484.4" cy="188.0" r="2.78" fill="#000"/>
<circle cx="489.5" cy="188.6" r="2.78" fill="#000"/>
<circle cx="491.0" cy="197.0" r="2.78" fill="#000"/>
<circle cx="490.0" cy="201.7" r="2.78" fill="#000"/>
<circle cx="484.2" cy="210.0" r="2.78" fill="#000"/>
<circle cx="491.7" cy="214.2" r="2.78" fill="#000"/>
<circle cx="481.7" cy="221.7" r="2.78" fill="#000"/>
<circle cx="490.0" cy="220.0" r="2.78" fill="#000"/>
<circle cx="490.8" cy="225.0" r="2.78" fill="#000"/>
<circle cx="481.7" cy="230.0" r="2.78" fill="#000"/>
<circle cx="480.8" cy="235.0" r="2.78" fill="#000"/>
<circle cx="490.8" cy="230.0" r="2.78" fill="#000"/>
<circle cx="480.0" cy="241.7" r="2.78" fill="#000"/>
<circle cx="481.7" cy="245.0" r="2.78" fill="#000"/>
<circle cx="481.7" cy="251.7" r="2.78" fill="#000"/>
<circle cx="500.8" cy="242.5" r="2.78" fill="#000"/>
<circle cx="492.5" cy="244.2" r="2.78" fill="#000"/>
<circle cx="492.5" cy="250.0" r="2.78" fill="#000"/>
<circle cx="493.3" cy="255.0" r="2.78" fill="#000"/>
<circle cx="501.7" cy="255.0" r="2.78" fill="#000"/>
<circle cx="511.7" cy="259.2" r="2.78" fill="#000"/>
<circle cx="511.7" cy="265.0" r="2.78" fill="#000"/>
<circle cx="493.3" cy="260.0" r="2.78" fill="#000"/>
<circle cx="493.3" cy="265.0" r="2.78" fill="#000"/>
<circle cx="491.7" cy="270.0" r="2.78" fill="#000"/>
<circle cx="495.0" cy="271.7" r="2.78" fill="#000"/>
<circle cx="503.3" cy="266.7" r="2.78" fill="#000"/>
<circle cx="510.0" cy="273.3" r="2.78" fill="#000"/>
<circle cx="510.0" cy="276.7" r="2.78" fill="#000"/>
<circle cx="511.7" cy="281.7" r="2.78" fill="#000"/>
<circle cx="492.5" cy="280.0" r="2.78" fill="#000"/>
<circle cx="496.7" cy="283.3" r="2.78" fill="#000"/>
<circle cx="500.0" cy="278.3" r="2.78" fill="#000"/>
<circle cx="480.0" cy="279.2" r="2.78" fill="#000"/>
<circle cx="496.7" cy="291.7" r="2.78" fill="#000"/>
<circle cx="503.3" cy="290.0" r="2.78" fill="#000"/>
<circle cx="511.7" cy="290.0" r="2.78" fill="#000"/>
<circle cx="496.7" cy="296.7" r="2.78" fill="#000"/>
<circle cx="505.0" cy="296.7" r="2.78" fill="#000"/>
<circle cx="513.3" cy="295.0" r="2.78" fill="#000"/>
<circle cx="480.8" cy="298.3" r="2.78" fill="#000"/>
<circle cx="481.0" cy="298.2" r="2.78" fill="#000"/>
<circle cx="478.8" cy="304.1" r="2.78" fill="#000"/>
<circle cx="481.0" cy="305.2" r="2.78" fill="#000"/>
<circle cx="475.6" cy="309.5" r="2.78" fill="#000"/>
<circle cx="480.0" cy="311.7" r="2.78" fill="#000"/>
<circle cx="478.8" cy="318.2" r="2.78" fill="#000"/>
<circle cx="480.0" cy="320.3" r="2.78" fill="#000"/>
<circle cx="475.6" cy="323.6" r="2.78" fill="#000"/>
<circle cx="478.8" cy="324.7" r="2.78" fill="#000"/>
<circle cx="475.6" cy="330.0" r="2.78" fill="#000"/>
<circle cx="476.7" cy="334.4" r="2.78" fill="#000"/>
<circle cx="476.7" cy="339.8" r="2.78" fill="#000"/>
<circle cx="476.7" cy="343.1" r="2.78" fill="#000"/>
<circle cx="475.6" cy="353.9" r="2.78" fill="#000"/>
<circle cx="475.6" cy="361.5" r="2.78" fill="#000"/>
<circle cx="476.7" cy="365.8" r="2.78" fill="#000"/>
<circle cx="475.6" cy="371.3" r="2.78" fill="#000"/>
<circle cx="476.7" cy="372.3" r="2.78" fill="#000"/>
<circle cx="474.5" cy="400.5" r="2.78" fill="#000"/>
<circle cx="496.0" cy="329.0" r="2.78" fill="#000"/>
<circle cx="495.5" cy="309.0" r="2.78" fill="#000"/>
<circle cx="498.5" cy="312.0" r="2.78" fill="#000"/>
<circle cx="504.5" cy="306.0" r="2.78" fill="#000"/>
<circle cx="509.0" cy="300.0" r="2.78" fill="#000"/>
<circle cx="513.5" cy="315.0" r="2.78" fill="#000"/>
<circle cx="519.5" cy="309.0" r="2.78" fill="#000"/>
<circle cx="495.5" cy="328.5" r="2.78" fill="#000"/>
<circle cx="515.0" cy="327.0" r="2.78" fill="#000"/>
<circle cx="518.0" cy="333.0" r="2.78" fill="#000"/>
<circle cx="522.5" cy="333.0" r="2.78" fill="#000"/>
<circle cx="521.0" cy="342.0" r="2.78" fill="#000"/>
<circle cx="527.0" cy="348.0" r="2.78" fill="#000"/>
<circle cx="525.5" cy="357.0" r="2.78" fill="#000"/>
<circle cx="530.0" cy="357.0" r="2.78" fill="#000"/>
<circle cx="540.5" cy="352.5" r="2.78" fill="#000"/>
<circle cx="540.5" cy="357.0" r="2.78" fill="#000"/>
<circle cx="884.2" cy="435.0" r="2.78" fill="#000"/>
<circle cx="701.3" cy="389.3" r="2.78" fill="#000"/>
<circle cx="815.3" cy="394.0" r="2.78" fill="#000"/>
<circle cx="493.9" cy="243.0" r="2.78" fill="#000"/>
<circle cx="495.0" cy="244.5" r="2.78" fill="#000"/>
<circle cx="497.2" cy="245.4" r="2.78" fill="#000"/>
<circle cx="492.1" cy="247.5" r="2.78" fill="#000"/>
<circle cx="494.2" cy="248.3" r="2.78" fill="#000"/>
<circle cx="500.5" cy="250.0" r="2.78" fill="#000"/>
<circle cx="499.2" cy="251.4" r="2.78" fill="#000"/>
<circle cx="497.6" cy="252.5" r="2.78" fill="#000"/>
<circle cx="497.6" cy="254.6" r="2.78" fill="#000"/>
<circle cx="496.7" cy="255.8" r="2.78" fill="#000"/>
<circle cx="498.0" cy="256.6" r="2.78" fill="#000"/>
<circle cx="502.2" cy="258.5" r="2.78" fill="#000"/>
<circle cx="497.4" cy="259.3" r="2.78" fill="#000"/>
<circle cx="508.0" cy="261.2" r="2.78" fill="#000"/>
<circle cx="505.4" cy="263.0" r="2.78" fill="#000"/>
<circle cx="505.3" cy="264.4" r="2.78" fill="#000"/>
<circle cx="499.4" cy="265.7" r="2.78" fill="#000"/>
<circle cx="500.3" cy="267.2" r="2.78" fill="#000"/>
<circle cx="508.5" cy="267.8" r="2.78" fill="#000"/>
<circle cx="494.7" cy="269.3" r="2.78" fill="#000"/>
<circle cx="510.2" cy="270.9" r="2.78" fill="#000"/>
<circle cx="504.0" cy="272.2" r="2.78" fill="#000"/>
<circle cx="501.9" cy="273.7" r="2.78" fill="#000"/>
<circle cx="499.1" cy="275.3" r="2.78" fill="#000"/>
<circle cx="503.5" cy="277.0" r="2.78" fill="#000"/>
<circle cx="505.4" cy="278.4" r="2.78" fill="#000"/>
<circle cx="508.8" cy="279.9" r="2.78" fill="#000"/>
<circle cx="505.5" cy="280.5" r="2.78" fill="#000"/>
<circle cx="509.2" cy="282.7" r="2.78" fill="#000"/>
<circle cx="510.1" cy="283.7" r="2.78" fill="#000"/>
<circle cx="506.8" cy="284.7" r="2.78" fill="#000"/>
<circle cx="509.2" cy="286.5" r="2.78" fill="#000"/>
<circle cx="499.6" cy="287.4" r="2.78" fill="#000"/>
<circle cx="510.0" cy="289.7" r="2.78" fill="#000"/>
<circle cx="496.6" cy="290.9" r="2.78" fill="#000"/>
<circle cx="502.4" cy="291.7" r="2.78" fill="#000"/>
<circle cx="500.4" cy="293.7" r="2.78" fill="#000"/>
<circle cx="511.0" cy="294.3" r="2.78" fill="#000"/>
<circle cx="506.5" cy="295.7" r="2.78" fill="#000"/>
<circle cx="508.5" cy="297.4" r="2.78" fill="#000"/>
<circle cx="511.7" cy="299.5" r="2.78" fill="#000"/>
<circle cx="504.8" cy="300.9" r="2.78" fill="#000"/>
<circle cx="501.3" cy="301.4" r="2.78" fill="#000"/>
<circle cx="506.8" cy="302.7" r="2.78" fill="#000"/>
<circle cx="499.3" cy="304.5" r="2.78" fill="#000"/>
<circle cx="507.3" cy="305.7" r="2.78" fill="#000"/>
<circle cx="496.5" cy="307.8" r="2.78" fill="#000"/>
<circle cx="501.8" cy="309.3" r="2.78" fill="#000"/>
<circle cx="513.3" cy="310.1" r="2.78" fill="#000"/>
<circle cx="504.9" cy="311.6" r="2.78" fill="#000"/>
<circle cx="508.6" cy="313.1" r="2.78" fill="#000"/>
<circle cx="507.0" cy="314.5" r="2.78" fill="#000"/>
<circle cx="514.8" cy="315.8" r="2.78" fill="#000"/>
<polyline points="120.2,333.8 121.9,335.2 123.2,333.8 124.2,334.7 125.3,335.5 125.6,336.9 126.5,337.9 127.9,338.4 129.2,339.2 131.2,339.9 131.7,341.0 131.5,342.3 131.4,343.6 132.4,344.6 131.6,346.0 132.6,347.0 132.9,348.2 133.3,349.4 132.2,350.9 132.8,352.1 132.8,353.4 133.4,354.6 134.4,355.7 134.2,357.0 134.2,358.3 135.0,359.5 134.2,361.1 135.3,362.3 136.0,363.5 135.4,365.1 136.7,366.1 136.1,367.7 137.1,368.7 137.4,370.0 138.1,371.3 138.2,372.7 138.9,373.9 139.5,375.2 138.7,376.9 140.0,377.8 139.7,379.3 140.8,380.3 140.2,381.9 140.8,383.1 141.4,384.5 142.5,385.6 143.8,386.5 144.7,387.6 146.0,388.4 146.1,389.7 146.2,391.1 147.6,391.8 147.2,393.3 147.8,394.4 149.0,395.4 149.6,396.6 150.1,397.9 150.7,399.1 150.5,400.7 151.8,401.6 152.9,402.5 153.5,403.7 153.4,405.3 153.7,406.7 155.0,407.5 155.5,408.6 156.0,409.8 156.3,411.1 157.5,411.9 157.5,413.3 158.1,414.4 158.5,415.6 159.6,416.5 160.4,417.7 161.0,419.1 161.2,420.8 162.6,421.5 163.5,422.6 164.9,423.2 166.1,423.8 167.3,424.5 167.8,426.2 168.8,426.8 169.7,427.9 169.6,429.2 169.9,430.4 169.9,431.7 170.1,432.9 171.1,433.9 170.6,435.3 171.0,436.5 171.8,437.6 171.7,438.9 172.5,440.0 173.2,441.0 173.9,442.1 173.7,443.6 175.1,444.3 175.8,445.3 175.4,446.9 176.0,448.0 177.0,448.9 177.1,450.2 178.6,450.8 178.9,452.0 179.5,453.2 179.9,454.4 180.7,455.3 181.4,456.4 181.6,457.7 181.4,459.1 182.2,460.6 183.4,460.9 184.7,461.1 186.1,461.5 185.9,463.1 187.1,463.7 187.6,464.9 189.1,465.3 189.5,466.4 189.9,468.1 191.0,469.0 191.9,470.2 193.2,470.9 194.5,471.5 195.5,472.6 196.6,473.8 198.4,473.5 200.0,474.2 200.1,472.9 201.2,472.0 200.6,470.5 201.9,469.7 202.7,468.7 201.8,467.1 203.0,466.2 203.5,465.1 204.4,464.3 204.8,463.1 205.1,461.8 205.9,460.9 207.3,460.2 207.7,459.0 207.2,457.3 207.7,456.0 208.2,454.8 208.6,453.5 209.8,452.5 210.6,453.6 210.2,455.2 210.9,456.3 212.1,457.3 212.0,458.8 212.6,459.8 214.2,460.4 216.1,460.6 217.0,461.6 217.8,462.6 218.5,463.8 219.4,465.2 220.1,464.0 220.4,462.5 221.9,462.0 222.8,461.2 223.8,460.3 224.9,459.5 225.6,457.6 227.5,457.9 228.8,457.1 230.6,456.7 231.1,455.0 232.7,454.4 233.1,452.9 234.4,452.3 234.8,450.9 235.5,449.4 236.9,449.3 237.9,448.6 239.7,448.5 239.3,447.0 240.0,445.8 240.5,444.6 241.4,443.5 240.7,441.9 241.8,440.8 242.1,439.6 242.7,438.5 244.1,437.7 244.5,435.9 246.0,435.1 246.4,433.9 247.0,432.8 247.0,431.4 248.5,430.7 249.2,429.7 249.4,428.2 249.9,429.4 249.5,431.0 251.1,431.7 251.6,432.9 252.1,434.1 251.6,435.7 252.2,437.0 253.7,437.7 254.6,439.0 256.4,439.7 256.1,441.3 256.8,442.3 257.2,443.6 257.9,444.7 258.4,445.9 259.1,447.0 258.8,447.8 260.2,447.4 261.2,446.4 262.4,446.1 264.0,446.7 265.6,447.0 266.9,447.3 268.1,447.6 269.0,448.4 270.0,449.2 271.2,448.5 272.6,448.1 273.0,446.2 274.4,445.8 275.6,445.0 276.5,444.4 277.5,445.5 278.7,446.2 280.2,446.8 280.9,445.6 281.3,444.3 282.1,443.2 282.5,441.8 283.0,440.6 283.0,439.0 284.5,438.6 284.7,437.2 285.7,436.4 286.7,435.7 287.7,434.8 288.5,433.9 289.3,432.3 289.4,433.7 289.9,434.9 290.3,436.2 291.1,437.3 291.0,438.8 292.1,439.8 292.3,441.2 292.0,442.9 293.1,443.7 294.2,444.5 295.4,445.1 295.4,446.9 296.5,447.6 297.7,448.5 298.2,449.7 298.5,451.1 299.1,452.3 299.7,453.1 301.3,452.7 301.5,451.1 302.2,450.0 303.1,449.6 304.6,449.3 305.5,450.5 306.9,450.4 307.7,451.5 308.9,451.8 309.9,452.5 311.3,453.7 311.6,452.2 312.4,451.2 313.5,450.3 314.4,448.9 315.5,449.4 316.3,450.3 317.4,450.8 317.9,451.5 319.4,450.9 318.9,449.2 320.4,448.5 321.1,447.5 321.4,446.2 321.5,444.3 323.4,444.6 324.5,443.8 326.0,443.0 326.9,441.9 327.2,440.2 328.9,438.9 328.8,440.5 330.0,441.5 330.2,442.8 330.6,444.2 330.6,445.7 331.8,446.6 333.2,447.4 333.6,449.2 334.6,450.2 335.6,451.1 336.8,451.8 337.2,453.0 337.5,454.2 337.9,455.4 338.9,456.2 339.5,457.8 340.4,456.7 341.3,455.8 342.1,454.7 342.8,452.7 343.5,454.0 344.9,454.0 345.4,455.7 346.5,456.1 347.6,456.9 349.2,457.1 349.5,458.0 351.2,457.3 351.8,455.9 352.6,454.6 353.3,453.3 354.5,454.3 356.2,454.2 357.2,454.9 357.9,453.8 358.3,452.6 359.3,451.7 360.2,450.8 359.7,449.2 360.4,447.8 361.9,447.5 363.2,446.8 363.8,445.6 364.8,444.4 365.3,443.0 366.1,441.7 367.5,440.8 367.7,442.0 368.1,443.2 369.2,444.1 369.7,445.2 369.0,446.8 369.9,447.7 370.5,448.8 370.6,450.2 371.2,451.2 372.1,452.0 373.3,452.7 373.1,454.3 374.5,454.8 375.6,455.9 376.0,457.4 376.6,458.8 377.6,460.1 378.3,458.8 379.9,458.6 380.8,457.5 382.1,457.7 382.6,459.2 383.7,459.7 384.6,460.4 385.9,461.0 387.3,461.3 387.9,462.8 389.6,463.7 390.3,462.3 391.7,461.7 392.7,460.7 393.4,459.1 394.0,460.4 395.1,461.0 396.2,461.4 396.9,461.3 398.0,460.5 399.0,459.6 399.7,458.4 400.6,457.4 401.2,456.2 401.4,454.6 403.3,454.6 404.2,453.3 405.4,452.6 405.5,451.0 407.2,450.7 407.4,449.2 407.8,450.5 408.4,451.5 408.8,452.7 410.1,453.4 411.0,454.3 411.2,455.6 412.1,456.5 412.2,457.8 412.5,459.1 413.6,459.8 414.5,460.7 415.2,461.7 415.3,463.1 415.8,464.3 417.5,464.2 418.5,465.6 420.2,465.6 421.7,466.3 422.5,468.1 424.2,468.3 425.4,469.4 426.9,469.5 428.0,469.6 429.2,468.9 430.5,468.2 431.7,467.7 433.3,468.3 435.2,468.5 436.2,467.3 437.0,465.9 438.2,464.9 439.0,463.9 440.0,463.0 440.6,461.8 441.7,461.0 442.5,460.0 443.1,458.5 444.9,458.2 445.7,456.9 446.3,455.9 446.8,457.1 447.2,458.2 447.3,459.5 448.5,460.3 448.9,461.5 449.8,462.5 449.4,463.9 449.9,465.1 451.1,465.7 451.9,466.8 453.7,466.5 454.2,467.6 454.0,469.1 454.5,470.2 455.4,471.1 456.5,472.0 456.6,473.3 456.5,474.7 457.5,475.6 457.9,476.7 458.1,475.5 458.7,474.3 459.0,473.1 459.4,472.0 459.9,470.8 460.1,469.6 459.8,468.3 459.8,467.1 460.7,465.9 460.8,464.7 461.1,463.6 460.2,462.3 461.3,461.2 461.5,460.0 460.5,458.6 460.9,457.5 461.5,456.3 461.0,455.0 462.0,454.0 461.4,452.7 462.1,451.5 461.7,450.3 461.7,449.1 461.8,447.9 462.4,446.7 462.8,445.5 462.2,444.3 463.0,443.1 462.7,441.9 463.2,440.7 463.0,439.5 462.9,438.2 463.0,437.0 463.0,435.8 464.1,434.8 463.8,433.5 463.6,432.3 464.8,431.2 464.6,430.0 463.9,428.7 465.1,427.6 465.1,426.4 465.0,425.2 465.2,424.0 466.0,422.9 465.4,421.6 465.9,420.5 466.1,419.3 465.9,418.0 466.0,416.8 466.7,415.7 466.7,414.5 466.6,413.3 466.9,412.1 466.8,410.8 467.8,409.7 466.9,408.3 468.0,407.3 468.0,406.0 467.9,404.8 468.6,403.6 468.9,402.4 468.4,401.1 469.2,400.0 468.9,398.7 469.9,397.6 469.4,396.3 469.5,395.1 469.5,393.9 469.4,392.6 469.7,391.5 469.8,390.2 470.6,389.1 471.0,387.9 470.3,386.6 470.3,385.4 471.0,384.2 470.6,382.9 471.1,381.8 471.7,380.6 471.1,379.3 471.9,378.2 471.8,376.9 471.3,375.7 471.7,374.5 472.3,373.3 471.8,372.0 472.1,370.9 472.7,369.7 473.2,368.5 472.9,367.3 473.2,366.1 472.4,364.8 473.0,363.7 473.1,362.5 474.1,361.4 473.4,360.1 474.2,358.9 473.3,357.6 474.0,356.5 474.7,355.4 474.7,354.1 474.5,352.9 474.1,351.7 475.3,350.6 474.2,349.2 475.6,348.2 475.5,346.9 475.5,345.7 475.4,344.5 475.0,343.2 475.4,342.1 476.0,340.9 476.1,339.7 475.9,338.5 476.6,337.3 475.7,336.0 476.1,334.9 476.0,333.6 476.4,332.5 477.2,331.3 477.2,330.1 476.5,328.9 476.8,327.7 476.6,326.5 477.4,325.3 477.2,324.1 477.0,322.9 477.3,321.7 478.1,320.5 477.5,319.3 478.0,318.1 478.0,316.9 477.8,315.7 478.0,314.5 477.8,313.3 477.7,312.0 478.2,310.9 478.0,309.6 478.1,308.4 478.0,307.2 479.1,306.1 478.5,304.8 478.3,303.6 478.1,302.4 478.5,301.2 479.5,300.1 478.8,298.8 479.3,297.7 478.8,296.4 479.5,295.3 479.3,294.0 479.8,292.9 479.6,291.6 479.4,290.4 479.4,289.2 479.9,288.0 480.3,286.9 480.2,285.6 480.0,284.4 479.9,283.2 480.7,282.1 480.7,280.9 479.8,279.6 480.7,278.4 480.9,277.2 480.8,276.0 481.3,274.9 481.3,273.6 480.5,272.4 481.6,271.2 480.8,270.0 481.0,268.8 481.9,267.6 480.9,266.3 481.3,265.1 481.8,264.0 481.4,262.7 481.5,261.5 482.4,260.3 482.2,259.1 482.6,257.9 482.7,256.7 483.0,255.5 483.1,254.3 483.1,253.1 483.5,251.9 482.9,250.6 483.3,249.4 483.2,248.2 484.0,247.0 483.6,245.8 483.4,244.5 483.9,243.4 483.5,242.1 483.4,240.9 483.9,239.7 483.6,238.4 483.6,237.2 483.8,236.0 484.5,234.8 485.0,233.7 484.1,232.4 485.1,231.2 484.5,229.9 485.2,228.8 485.0,227.6 485.4,226.4 485.9,225.2 485.6,224.0 485.7,222.8 486.3,221.6 485.6,220.3 486.1,219.1 486.7,218.0 487.0,216.8 487.4,215.6 486.5,214.3 487.2,213.2 486.9,211.9 487.6,210.8 487.9,209.6 487.1,208.3 487.5,207.1 488.5,206.0 488.2,204.7 488.1,206.1 488.1,207.5 489.2,208.6 488.8,210.1 490.1,211.2 489.9,212.6 490.5,213.9 490.5,215.2 490.9,216.4 491.5,217.5 490.7,219.0 491.8,220.0 491.6,221.4 491.9,222.6 491.7,223.9 492.0,225.1 492.6,226.3 493.5,227.3 493.0,228.7 494.2,229.8 493.3,231.2 494.4,232.3 494.8,233.5 495.1,234.7 495.1,236.0 494.9,237.3 495.1,238.5 495.6,239.7 495.9,240.9 496.8,241.9 497.0,243.1 497.4,244.3 497.5,245.6 497.2,246.9 497.3,248.2 498.9,249.1 498.0,250.6 498.3,251.7 499.3,252.8 499.2,254.1 499.4,255.3 500.5,256.3 500.2,257.6 500.0,259.0 500.5,260.1 500.7,261.3 502.2,262.3 501.6,263.7 502.2,264.8 501.9,266.1 503.3,267.1 503.0,268.4 503.9,269.5 503.3,270.9 503.7,272.1 504.9,273.0 504.9,274.3 505.4,275.5 505.0,276.8 505.3,278.0 506.4,279.1 505.5,280.6 505.8,281.8 506.8,282.8 506.9,284.0 507.5,285.2 507.6,286.5 508.2,287.7 508.5,288.9 508.5,290.3 509.6,291.3 509.8,292.5 509.5,294.0 510.6,295.0 511.2,296.1 510.4,297.7 511.8,298.6 511.8,300.0 512.3,301.1 512.7,302.2 513.0,303.4 513.1,304.7 514.0,305.7 513.8,307.0 514.8,308.0 515.2,309.2 515.4,310.4 515.7,311.6 515.9,312.8 516.3,313.9 516.0,315.3 516.6,316.4 517.2,317.5 517.3,319.0 518.5,319.8 520.0,320.2 520.9,321.5 521.9,322.4 522.8,323.4 523.2,324.7 524.0,325.8 524.3,327.1 525.8,327.8 525.9,329.3 526.1,330.4 526.9,331.5 526.6,332.8 527.9,333.9 527.2,335.3 528.0,336.4 527.6,337.7 528.2,338.9 528.2,340.2 528.8,341.3 529.0,342.6 528.3,343.9 528.8,345.1 529.0,346.3 529.9,347.5 529.8,348.7 529.1,350.1 530.3,351.2 530.1,352.5 530.0,353.8 530.6,355.0 530.8,356.2 530.5,357.6 531.0,358.8 532.0,359.9 532.0,361.2 532.3,362.5 532.2,363.8 532.5,365.0 533.3,366.2 533.0,367.5 533.6,368.7 534.5,369.9 534.3,371.2 534.5,372.5 535.0,373.7 534.6,375.0 534.4,376.4 534.7,377.6 535.4,378.8 535.3,380.1 536.1,381.2 536.2,382.5 536.0,383.9 537.4,384.9 537.2,386.2 537.4,387.4 538.2,388.4 538.9,389.5 540.0,390.2 540.0,391.7 540.5,393.0 542.0,393.4 542.8,394.4 543.4,395.6 543.6,397.0 545.0,397.5 545.1,399.0 546.5,399.5 546.7,400.8 547.3,402.0 548.1,402.9 549.2,403.2 550.3,404.8 551.7,405.1 553.3,405.0 553.6,406.3 554.5,407.1 555.7,407.7 556.1,408.9 557.1,410.2 557.5,408.7 557.8,407.1 558.8,406.0 560.2,404.6 561.2,405.9 562.6,406.9 563.6,405.8 564.6,404.9 565.2,404.4 566.4,405.3 566.3,406.7 567.3,407.7 567.3,409.0 568.1,410.1 568.6,411.2 568.7,412.5 569.3,413.6 569.3,414.9 569.8,416.4 570.8,417.5 571.3,419.0 572.5,420.0 573.5,421.0 573.1,422.5 574.0,423.5 574.1,424.9 574.2,426.2 575.3,427.1 575.6,428.0 576.7,427.3 577.9,426.6 578.8,425.6 580.3,424.5 581.2,425.4 582.1,426.3 583.0,427.0 583.9,428.0 584.6,429.1 585.5,430.0 586.6,430.7 587.9,430.1 588.4,428.7 590.0,428.6 590.6,427.7 592.1,428.3 592.9,429.6 594.2,430.4 595.4,431.9 595.6,430.5 596.7,429.7 597.6,428.7 598.1,427.4 598.4,426.0 599.1,424.8 601.0,425.2 603.0,424.5 603.0,422.8 604.0,421.8 604.6,420.9 605.0,422.1 606.0,423.1 606.2,424.4 605.8,425.8 607.4,426.7 607.5,428.0 607.3,429.3 607.4,430.7 607.9,432.1 609.5,432.8 610.3,434.2 611.1,435.3 612.5,436.1 613.2,437.2 613.8,438.4 613.7,439.9 615.1,440.7 615.2,442.1 616.2,443.8 616.6,442.1 618.0,441.8 619.0,440.9 619.9,440.6 621.4,440.3 622.8,440.5 623.9,441.3 625.1,441.7 626.6,441.5 627.9,442.7 628.0,441.2 629.3,440.3 630.0,439.0 630.0,437.5 631.2,438.0 632.4,438.3 633.2,438.9 634.4,438.4 635.4,438.1 636.7,437.2 636.4,435.5 637.6,434.6 638.2,433.4 638.9,432.2 639.2,430.9 640.6,431.0 641.4,429.9 641.7,428.6 642.9,427.8 643.1,426.5 644.5,425.8 645.0,424.7 644.8,423.4 645.1,424.6 646.4,425.4 646.7,426.6 647.3,427.7 647.9,428.8 648.4,429.9 649.5,431.1 650.4,432.4 652.3,433.0 652.3,434.4 653.5,435.3 653.2,437.0 654.4,437.8 655.0,438.9 655.6,439.9 656.7,439.2 657.4,438.2 658.3,437.3 658.6,436.1 659.2,434.7 660.6,435.2 661.9,434.4 663.2,435.3 665.1,435.1 667.0,436.0 667.1,434.3 668.5,433.4 668.8,431.8 669.8,430.2 671.6,430.1 673.6,430.4 674.3,428.8 675.6,427.8 677.1,426.8 677.8,425.7 677.3,424.2 678.4,423.2 679.0,422.0 679.4,420.9 679.3,419.4 680.0,418.3 680.9,417.4 680.9,416.0 681.8,415.1 682.6,414.1 683.4,413.2 683.3,411.7 684.0,410.9 685.1,411.9 685.7,413.1 685.9,414.5 686.2,415.9 686.8,417.1 687.2,418.9 688.8,418.4 689.7,419.5 690.8,420.0 691.8,420.8 691.7,422.3 693.3,422.7 693.8,423.8 693.7,424.6 695.2,424.1 696.0,423.0 696.4,421.6 697.5,421.4 698.8,421.0 700.1,420.4 701.0,421.7 702.2,422.0 703.6,421.6 704.5,422.7 705.4,422.2 706.5,421.2 707.4,420.1 708.8,419.4 708.9,417.7 710.0,416.5 711.7,416.7 713.7,417.7 713.4,416.2 714.7,415.5 714.5,414.1 715.2,413.1 716.1,412.1 715.8,410.7 716.6,409.7 717.2,408.7 717.5,407.6 718.5,406.8 719.8,406.5 720.6,405.7 721.1,404.4 721.6,403.1 723.0,402.4 723.6,401.2 723.8,400.1 725.1,401.0 724.8,402.4 725.5,403.4 725.8,404.6 725.8,405.9 726.6,406.9 727.2,408.0 727.5,409.4 729.3,409.1 730.3,410.3 731.4,411.1 732.6,411.8 732.6,413.2 732.7,414.6 733.2,415.7 734.5,416.4 734.7,417.3 736.2,416.6 736.1,415.0 736.4,413.7 737.3,412.7 738.3,411.7 739.5,412.1 740.9,411.5 742.1,412.1 743.3,412.8 745.0,412.3 746.3,412.2 747.8,411.4 748.3,410.0 749.4,408.9 750.0,407.5 751.2,408.1 752.5,407.9 753.6,408.8 755.4,408.5 755.9,407.3 756.2,405.9 756.9,404.8 757.2,403.5 757.5,402.1 759.1,401.4 759.6,400.2 760.2,399.0 760.9,397.9 761.2,396.5 762.4,395.6 762.4,394.1 763.6,393.2 764.3,391.5 764.2,392.9 764.4,394.2 764.4,395.6 765.2,396.7 765.2,398.1 766.1,399.1 766.1,400.5 766.4,402.0 767.7,402.6 769.3,402.8 769.8,404.3 771.3,405.0 771.6,406.4 772.4,407.4 772.3,409.0 772.9,409.7 774.2,409.2 774.2,407.7 775.0,406.8 776.2,406.2 776.4,405.5 778.2,405.1 779.1,406.4 780.5,406.7 781.6,407.7 783.1,407.4 784.4,407.7 785.6,408.2 787.0,409.6 787.7,408.3 788.9,407.6 789.4,406.3 790.6,406.0 791.6,407.1 793.3,407.1 794.6,408.5 795.2,407.3 796.0,406.2 796.0,404.8 796.7,403.6 796.9,402.3 798.1,401.4 798.1,399.8 799.4,399.1 800.4,398.1 801.8,397.5 802.6,396.3 803.8,394.8 804.2,396.1 804.3,397.4 804.7,398.7 804.7,400.1 805.7,401.1 805.8,402.5 806.3,403.7 806.9,404.8 807.6,406.2 808.8,407.0 809.3,408.6 811.3,409.0 810.9,410.7 811.8,411.8 812.6,412.9 813.6,414.0 813.4,415.5 814.5,417.0 814.9,415.6 816.1,414.9 816.7,413.7 817.0,412.3 818.0,412.1 819.5,412.3 820.3,413.3 821.0,414.5 821.9,415.4 822.9,416.2 824.1,416.6 825.5,416.0 825.9,414.4 827.3,413.8 828.1,412.6 828.9,412.1 830.0,412.8 831.1,413.5 832.0,414.5 833.1,414.9 833.9,413.9 834.1,412.6 835.0,411.8 835.4,410.6 836.7,410.0 836.6,408.5 838.2,408.0 838.4,406.8 839.1,405.7 839.6,404.4 840.8,403.7 841.7,402.8 843.0,401.5 842.3,403.1 843.5,404.0 843.8,405.1 844.5,406.2 844.8,407.4 845.3,408.6 845.0,410.0 846.4,410.8 846.5,412.1 846.6,413.4 847.4,414.4 848.2,415.4 848.7,416.6 849.8,417.4 850.2,418.7 850.6,419.9 850.9,421.3 851.9,422.1 852.4,423.2 853.7,422.4 854.4,421.0 855.7,420.3 856.9,418.8 857.7,419.9 858.8,420.4 859.8,421.1 860.7,422.0 861.9,422.5 862.8,423.3 864.0,423.0 865.6,423.0 866.2,421.6 867.1,420.7 868.2,420.0 868.9,419.7 870.1,420.6 871.5,421.2 873.1,421.4 873.7,422.3 874.4,421.1 875.6,420.2 876.2,419.1 876.0,417.5 876.5,416.3 878.3,415.7 878.1,414.1 878.5,412.8 879.7,412.2 880.1,410.9 881.6,410.5 882.0,409.2 882.4,410.5 882.5,411.8 884.1,412.5 884.5,413.8 884.3,415.3 885.1,416.4 885.9,417.5 886.7,418.5 887.1,419.8 887.4,421.2 888.1,422.3 888.8,423.4 889.4,424.5 891.1,425.1 891.9,426.2 891.6,427.9 892.9,428.7 893.3,430.0 894.3,428.9 895.9,428.4 896.4,426.8 897.7,425.3 898.9,426.1 899.7,427.6 901.1,428.1 902.3,427.8 904.0,428.3 904.9,426.9 906.4,426.7 907.5,425.9 908.5,426.9 910.0,427.0 911.5,427.1 912.6,428.3 913.6,427.5 913.8,426.1 915.0,425.3 915.3,424.0 915.9,422.8 916.6,421.8 917.2,420.6 918.3,419.8 919.7,419.2 920.1,417.9 921.1,417.0 922.1,415.6 922.3,416.9 922.4,418.1 923.1,419.2 924.0,420.2 923.3,421.7 924.7,422.5 924.4,423.9 924.5,425.4 926.1,425.8 926.9,426.8 927.7,427.8 928.3,429.0 928.6,430.3 930.2,431.0 930.6,432.4 930.3,434.0 931.7,434.9 931.7,436.3 932.8,437.7 932.8,435.9 933.6,434.8 935.3,434.2 936.3,433.2 936.7,431.7" fill="none" stroke="#0072B2" stroke-width="2.08" stroke-linejoin="round"/>
<polygon points="936.2,436.5 944.8,436.5 944.8,496.4 936.2,492.1" fill="#0072B2"/>
<circle cx="937.6" cy="437.0" r="3.1" fill="#f00"/>
<circle cx="939.2" cy="434.6" r="3.1" fill="#f00"/>
<circle cx="940.7" cy="432.6" r="3.1" fill="#f00"/>
</g>
<rect x="79.5" y="15.4" width="905.90" height="526.90" fill="none" stroke="#000" stroke-width="1.11" stroke-linejoin="miter"/>
<g stroke="#000" stroke-width="1.11"><line x1="74.64" y1="488.40" x2="79.5" y2="488.40"/><line x1="74.64" y1="414.71" x2="79.5" y2="414.71"/><line x1="74.64" y1="341.02" x2="79.5" y2="341.02"/><line x1="74.64" y1="267.32" x2="79.5" y2="267.32"/><line x1="74.64" y1="193.63" x2="79.5" y2="193.63"/><line x1="74.64" y1="119.94" x2="79.5" y2="119.94"/><line x1="74.64" y1="46.25" x2="79.5" y2="46.25"/><line x1="109.30" y1="542.3" x2="109.30" y2="547.16"/><line x1="267.53" y1="542.3" x2="267.53" y2="547.16"/><line x1="425.75" y1="542.3" x2="425.75" y2="547.16"/><line x1="583.98" y1="542.3" x2="583.98" y2="547.16"/><line x1="742.21" y1="542.3" x2="742.21" y2="547.16"/><line x1="900.43" y1="542.3" x2="900.43" y2="547.16"/></g>
<g font-family="Liberation Sans, sans-serif" font-size="13.9" fill="#000" style="will-change:transform" opacity="0.999"><text x="70.58" y="493.45" text-anchor="end" textLength="8.40" lengthAdjust="spacingAndGlyphs">0</text><text x="68.78" y="419.76" text-anchor="end" textLength="25.20" lengthAdjust="spacingAndGlyphs">200</text><text x="68.78" y="346.07" text-anchor="end" textLength="25.20" lengthAdjust="spacingAndGlyphs">400</text><text x="68.78" y="272.37" text-anchor="end" textLength="25.20" lengthAdjust="spacingAndGlyphs">600</text><text x="68.78" y="198.68" text-anchor="end" textLength="25.20" lengthAdjust="spacingAndGlyphs">800</text><text x="68.78" y="124.99" text-anchor="end" textLength="33.60" lengthAdjust="spacingAndGlyphs">1000</text><text x="68.78" y="51.30" text-anchor="end" textLength="33.60" lengthAdjust="spacingAndGlyphs">1200</text><text x="109.30" y="562.12" text-anchor="middle" textLength="34.00" lengthAdjust="spacingAndGlyphs">2005</text><text x="267.53" y="562.12" text-anchor="middle" textLength="34.00" lengthAdjust="spacingAndGlyphs">2009</text><text x="425.75" y="562.12" text-anchor="middle" textLength="34.00" lengthAdjust="spacingAndGlyphs">2013</text><text x="583.98" y="562.12" text-anchor="middle" textLength="34.00" lengthAdjust="spacingAndGlyphs">2017</text><text x="742.21" y="562.12" text-anchor="middle" textLength="34.00" lengthAdjust="spacingAndGlyphs">2021</text><text x="900.43" y="562.12" text-anchor="middle" textLength="34.00" lengthAdjust="spacingAndGlyphs">2025</text>
<text x="532.5" y="582" text-anchor="middle">ds</text>
</g>
<text font-family="Liberation Sans, sans-serif" font-size="13.9" fill="#000" transform="translate(24.6,278.5) rotate(-90)" text-anchor="middle">y</text>
</svg></body></html>
